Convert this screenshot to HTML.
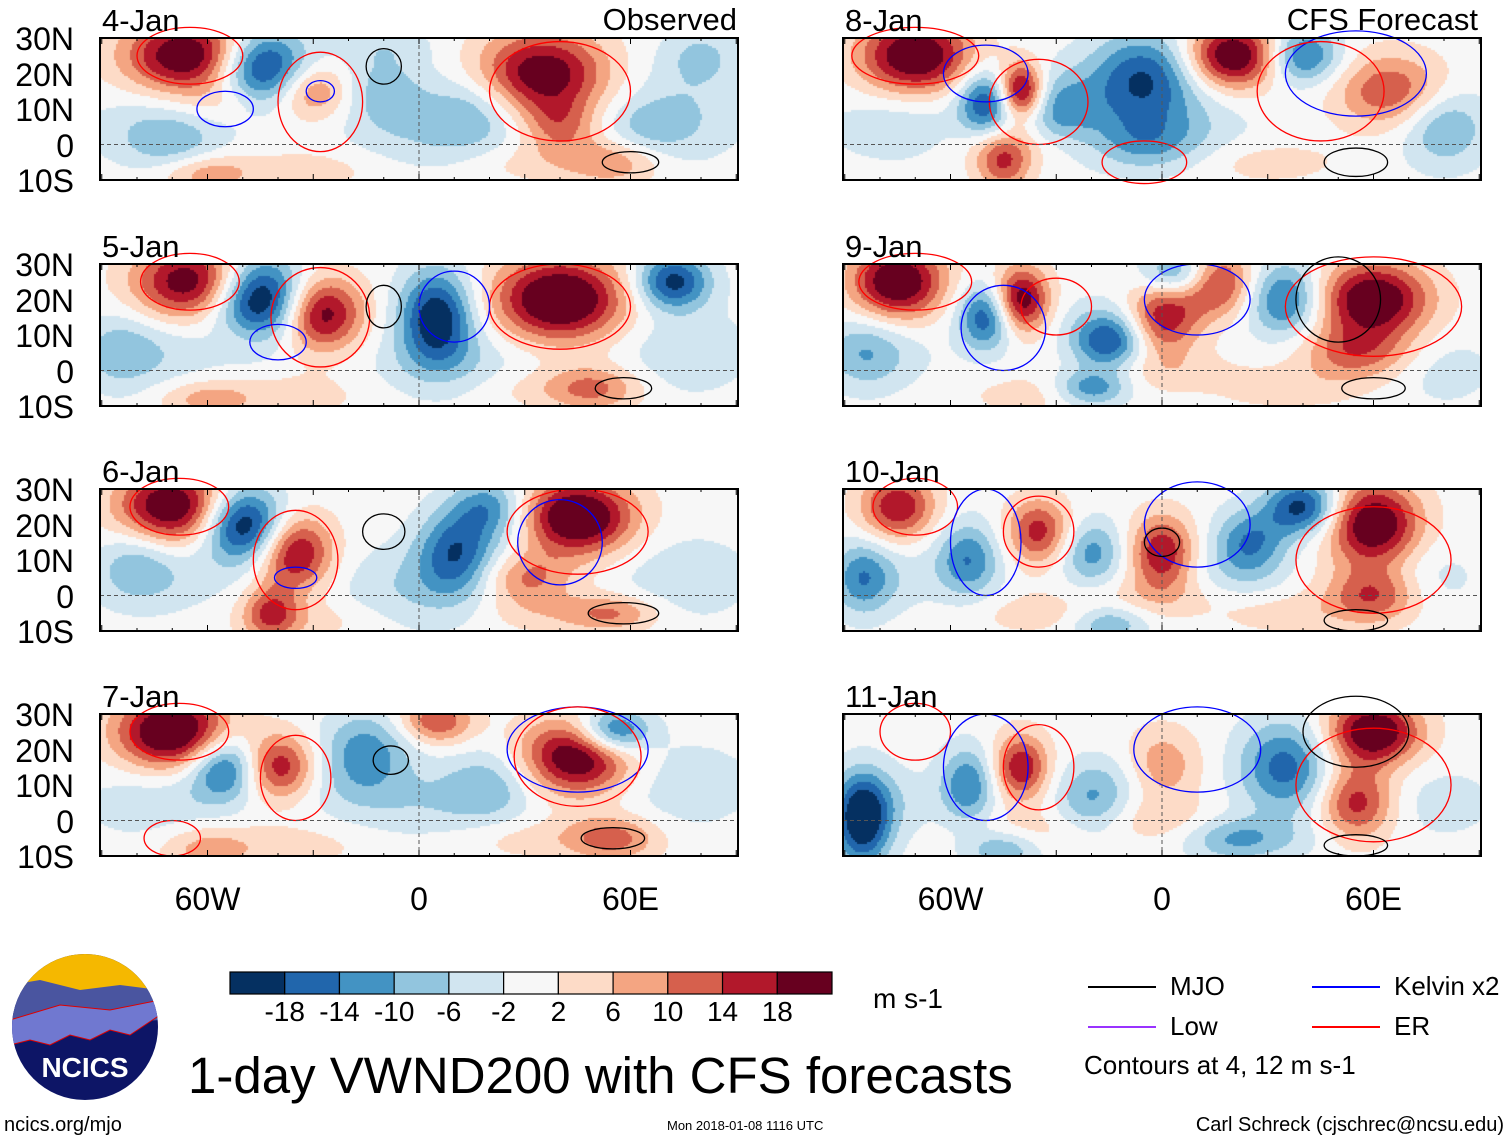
<!DOCTYPE html>
<html><head><meta charset="utf-8">
<style>
body{margin:0;background:#fff;width:1510px;height:1142px;overflow:hidden;font-family:"Liberation Sans",sans-serif;position:relative}
.t{position:absolute;color:#000;white-space:nowrap;line-height:1}
canvas{position:absolute}
</style></head><body>
<svg id="ov" width="1510" height="1142" style="position:absolute;left:0;top:0"></svg>
<script>
// ---- data ----
const panelTitles=["4-Jan","5-Jan","6-Jan","7-Jan","8-Jan","9-Jan","10-Jan","11-Jan"];
const latTicks=["30N","20N","10N","0","10S"];
const latVals=[30,20,10,0,-10];
const lonTicks=["60W","0","60E"];
const lonVals=[-60,0,60];
const levels=[-18,-14,-10,-6,-2,2,6,10,14,18];
const colors=["#053061","#2166ac","#4393c3","#92c5de","#d1e5f0","#f7f7f7","#fddbc7","#f4a582","#d6604d","#b2182b","#67001f"];
// blobs: [lon, lat, amplitude m/s, lon-width, lat-width]
const blobs0=[[-65,25,24,14,8],[-45,22,-24,10,8],[-30,15,12,8,6],[-10,15,-8,10,8],[35,20,22,14,9],[40,5,10,8,6],[55,-5,9,10,5],[15,10,-8,10,8],[-70,0,-6,10,6],[-60,-8,9,10,4],[65,5,-6,10,6],[80,25,-6,8,6]];
const blobs1=[[-65,25,22,12,8],[-45,20,-26,10,9],[-28,16,22,9,8],[5,15,-22,8,10],[40,20,26,14,9],[50,-5,10,10,5],[72,25,-20,8,6],[-60,-8,8,10,4],[-85,5,-6,8,8]];
const blobs2=[[-70,25,24,12,8],[-50,20,-24,9,8],[-35,12,20,8,8],[-42,-5,14,6,6],[10,12,-14,8,9],[45,22,26,12,8],[30,5,12,10,6],[55,-5,10,10,4],[20,25,-12,8,6],[-80,10,-6,8,8]];
const blobs3=[[-70,25,26,12,8],[-55,15,-18,8,7],[-40,15,18,8,7],[-15,20,-12,10,8],[5,28,14,8,5],[20,10,-8,10,8],[45,18,24,12,8],[55,25,-20,8,5],[55,-5,12,10,5],[-60,-8,8,10,5]];
const blobs4=[[-70,25,24,12,8],[-50,12,-18,6,7],[-40,15,24,5,6],[-30,10,-10,8,8],[-5,20,-16,12,9],[-45,-5,14,6,6],[20,25,24,10,7],[40,25,-16,8,6],[65,15,14,12,8],[80,5,-6,8,8],[-5,0,-8,12,6]];
const blobs5=[[-75,25,24,10,8],[-50,15,-18,6,7],[-40,20,22,6,7],[-15,8,-18,8,6],[-20,-5,-14,8,4],[0,15,18,8,8],[15,25,18,8,7],[35,20,-16,8,8],[60,20,24,12,8],[55,5,12,12,6],[5,27,-16,8,5],[-85,5,-6,8,8]];
const blobs6=[[-75,25,18,8,7],[-55,10,-14,7,8],[-35,18,16,7,7],[-20,12,-12,7,7],[0,12,18,7,8],[25,15,-14,8,7],[40,25,-20,8,6],[60,20,24,10,9],[60,0,14,10,6],[-85,5,-10,6,8],[-15,-8,-10,8,4]];
const blobs7=[[-85,0,-22,6,10],[-55,10,-14,6,8],[-40,15,18,6,7],[-20,5,-10,8,8],[0,15,10,8,8],[35,15,-16,10,10],[60,25,24,10,7],[55,5,16,8,8],[-45,-8,-10,8,4],[20,-5,-8,10,5]];
const allBlobs=[blobs0,blobs1,blobs2,blobs3,blobs4,blobs5,blobs6,blobs7];
// weak broad background anomalies: [lon, lat, amp, lon-width, lat-width]
const bg0=[[-75,5,-5,20,10],[-30,-7,4,20,6],[5,2,-5,25,10],[30,-5,4,20,6],[75,10,-5,20,15],[-10,28,-4,15,6],[-55,12,4,12,6]];
const bg1=[[-75,5,-5,20,10],[-35,-7,4,20,6],[10,2,-5,25,10],[35,-5,4,20,6],[75,5,-5,20,12],[-50,10,3,10,6]];
const bg2=[[-75,5,-5,20,10],[-30,-7,4,20,6],[0,2,-6,25,12],[35,-5,4,20,6],[75,5,-5,20,12],[20,15,-4,15,10]];
const bg3=[[-75,5,-5,20,10],[-35,-7,4,20,6],[0,5,-5,25,10],[30,-5,4,20,6],[75,10,-5,20,12],[-20,10,-3,15,8]];
const bg4=[[-75,5,-5,20,10],[-40,0,4,20,6],[0,5,-5,25,10],[30,-5,4,20,6],[80,5,-5,15,12],[-10,12,-4,20,10]];
const bg5=[[-80,5,-5,15,10],[-35,-7,4,20,6],[0,0,4,20,6],[35,-5,4,20,6],[80,0,-4,15,10],[-15,15,-3,15,8]];
const bg6=[[-80,5,-5,15,10],[-35,-5,4,20,6],[0,0,4,20,6],[35,-5,4,20,6],[75,5,-4,15,10],[20,5,-4,15,8]];
const bg7=[[-80,5,-5,15,10],[-35,-3,4,20,6],[0,0,4,20,6],[30,-5,-4,20,6],[80,5,-4,15,10],[-10,12,-3,15,8]];
const allBg=[bg0,bg1,bg2,bg3,bg4,bg5,bg6,bg7];
// contour loops: [lon, lat, rx-deg, ry-deg, kind]
const contours=[
[[-65,25,15,8,"er"],[-28,12,12,14,"er"],[40,15,20,14,"er"],[60,-5,8,3,"mjo"],[-55,10,8,5,"kel"],[-28,15,4,3,"kel"],[-10,22,5,5,"mjo"]],
[[-65,25,14,8,"er"],[-28,15,14,14,"er"],[40,18,20,12,"er"],[58,-5,8,3,"mjo"],[-10,18,5,6,"mjo"],[-40,8,8,5,"kel"],[10,18,10,10,"kel"]],
[[-68,25,14,8,"er"],[-35,10,12,14,"er"],[45,18,20,12,"er"],[58,-5,10,3,"mjo"],[-10,18,6,5,"mjo"],[40,15,12,12,"kel"],[-35,5,6,3,"kel"]],
[[-68,25,14,8,"er"],[-35,12,10,12,"er"],[45,20,20,12,"kel"],[55,-5,9,3,"mjo"],[-8,17,5,4,"mjo"],[45,18,18,14,"er"],[-70,-5,8,5,"er"]],
[[-70,25,18,8,"er"],[-35,12,14,12,"er"],[55,20,20,12,"kel"],[55,-5,9,4,"mjo"],[-50,20,12,8,"kel"],[45,15,18,14,"er"],[-5,-5,12,6,"er"]],
[[-70,25,16,8,"er"],[-30,18,10,8,"er"],[60,18,25,14,"er"],[60,-5,9,3,"mjo"],[-45,12,12,12,"kel"],[10,20,15,10,"kel"],[50,20,12,12,"mjo"]],
[[-70,25,12,8,"er"],[-35,18,10,10,"er"],[60,10,22,15,"er"],[55,-7,9,3,"mjo"],[-50,15,10,15,"kel"],[10,20,15,12,"kel"],[0,15,5,4,"mjo"]],
[[-70,25,10,8,"er"],[-35,15,10,12,"er"],[60,10,22,16,"er"],[55,-7,9,3,"mjo"],[-50,15,12,15,"kel"],[10,20,18,12,"kel"],[55,25,15,10,"mjo"]]
];
const kindColor={er:"#ff0000",kel:"#0000ff",mjo:"#000000",low:"#9933ff"};

// ---- layout ----
const PX=[100,843], PY=[38,264,489,714], PW=638, PH=142;
const lon0=-90.5, lon1=90.5, lat0=-10, lat1=30;
const WS=1.3;
function xs(p,lon){return PX[p]+(lon-lon0)/(lon1-lon0)*PW;}
function ys(r,lat){return PY[r]+(lat1-lat)/(lat1-lat0)*PH;}
const ov=document.getElementById('ov');
const NS="http://www.w3.org/2000/svg";
function sv(tag,at,parent){const e=document.createElementNS(NS,tag);for(const k in at)e.setAttribute(k,at[k]);(parent||ov).appendChild(e);return e;}
function txt(s,x,y,size,name,anchor){const d=document.createElement('div');d.className='t';d.textContent=s;d.style.fontSize=size+'px';d.style.top=y+'px';
 if(anchor==='end'){d.style.right=(1510-x)+'px';}else if(anchor==='mid'){d.style.left=x+'px';d.style.transform='translateX(-50%)';}else d.style.left=x+'px';
 
 
 document.body.appendChild(d);return d;}
function colorFor(v){let i=0;while(i<levels.length&&v>=levels[i])i++;return colors[i];}

for(let k=0;k<8;k++){
 const c=k<4?0:1, r=k%4;
 const cv=document.createElement('canvas');cv.width=PW;cv.height=PH;
 cv.style.left=PX[c]+'px';cv.style.top=PY[r]+'px';
 
 
 document.body.insertBefore(cv,ov);
 const g=cv.getContext('2d');const st=2;
 for(let py=0;py<PH;py+=st)for(let px=0;px<PW;px+=st){
  const lon=lon0+(px+1)/PW*(lon1-lon0), lat=lat1-(py+1)/PH*(lat1-lat0);
  let v=0;for(const b of allBlobs[k]){const dx=(lon-b[0])/(b[3]*WS),dy=(lat-b[1])/(b[4]*WS);v+=b[2]*Math.exp(-(dx*dx+dy*dy));}
  for(const b of allBg[k]){const dx=(lon-b[0])/b[3],dy=(lat-b[1])/b[4];v+=b[2]*Math.exp(-(dx*dx+dy*dy));}
  g.fillStyle=colorFor(v);g.fillRect(px,py,st,st);
 }
 const grp=sv('g',{});
 
 
 for(const ct of contours[k]){
  const e=sv('ellipse',{cx:xs(c,ct[0]),cy:ys(r,ct[1]),rx:ct[2]*PW/(lon1-lon0),ry:ct[3]*PH/(lat1-lat0),fill:'none',stroke:kindColor[ct[4]],'stroke-width':1.3},grp);
  
  
 }
 sv('line',{x1:PX[c],x2:PX[c]+PW,y1:ys(r,0),y2:ys(r,0),stroke:'#555','stroke-dasharray':'4,3','stroke-width':1},grp);
 sv('line',{x1:xs(c,0),x2:xs(c,0),y1:PY[r],y2:PY[r]+PH,stroke:'#555','stroke-dasharray':'4,3','stroke-width':1},grp);
 const fr=sv('rect',{x:PX[c],y:PY[r],width:PW,height:PH,fill:'none',stroke:'#000','stroke-width':2},grp);
 
 
 for(let lo=-90;lo<=90;lo+=10){const x=xs(c,lo);const L=(lo%30===0)?6:3;
  sv('line',{x1:x,x2:x,y1:PY[r],y2:PY[r]+L,stroke:'#000'},grp);sv('line',{x1:x,x2:x,y1:PY[r]+PH,y2:PY[r]+PH-L,stroke:'#000'},grp);}
 txt(panelTitles[k],PX[c]+2,PY[r]-33,31,'panel-title');
 if(c===0){latTicks.forEach((t,i)=>txt(t,74,ys(r,latVals[i])-15,32,'lat-tick-label','end'));}
}
txt("Observed",737,4,31,'observed-label','end');
txt("CFS Forecast",1478,4,31,'cfs-forecast-label','end');
for(let c=0;c<2;c++)lonTicks.forEach((t,i)=>txt(t,xs(c,lonVals[i]),883,32,'lon-tick-label','mid'));

// colorbar
const cbX=230,cbY=972,cbW=602,cbH=22,bw=cbW/colors.length;
colors.forEach((col,i)=>{const e=sv('rect',{x:cbX+i*bw,y:cbY,width:bw,height:cbH,fill:col,stroke:'#000','stroke-width':1.2});
 
 });
levels.forEach((lv,i)=>txt(String(lv),cbX+(i+1)*bw,998,28,'colorbar-label','mid'));
txt("m s-1",873,985,28,'units-label');

// legend
const leg=[["MJO","#000",1088,987],["Low","#9933ff",1088,1027],["Kelvin x2","#0000ff",1312,987],["ER","#ff0000",1312,1027]];
leg.forEach(l=>{const e=sv('line',{x1:l[2],x2:l[2]+68,y1:l[3],y2:l[3],stroke:l[1],'stroke-width':2});
 
 
 txt(l[0],l[2]+82,l[3]-14,26,'legend-entry');});
txt("Contours at 4, 12 m s-1",1084,1052,26,'contour-note');
txt("1-day VWND200 with CFS forecasts",188,1050,51,'chart-title');
txt("ncics.org/mjo",4,1115,20,'ncics-url');
txt("Mon 2018-01-08 1116 UTC",667,1119,13,'timestamp');
txt("Carl Schreck (cjschrec@ncsu.edu)",1504,1115,20,'author-credit','end');

// logo
const lg=sv('g',{});
sv('defs',{},lg).innerHTML='<clipPath id="lc"><circle cx="85" cy="1027" r="73"/></clipPath>';
const lgc=sv('g',{'clip-path':'url(#lc)'},lg);
sv('rect',{x:10,y:950,width:150,height:160,fill:'#0d1566'},lgc);
sv('rect',{x:10,y:950,width:150,height:40,fill:'#f5b800'},lgc);
sv('path',{d:'M10 985 L40 980 L80 990 L120 985 L160 990 L160 1020 L10 1030Z',fill:'#4a55a0'},lgc);
sv('path',{d:'M10 1020 L60 1005 L110 1010 L160 1000 L160 1015 L130 1035 L110 1030 L90 1040 L70 1035 L50 1045 L30 1040 L10 1045Z',fill:'#7078d0',stroke:'#d00','stroke-width':1},lgc);
const nt=sv('text',{x:85,y:1077,'text-anchor':'middle','font-size':28,'font-weight':'bold',fill:'#fff','font-family':'Liberation Sans, sans-serif'},lg);nt.textContent='NCICS';
</script>
</body></html>
